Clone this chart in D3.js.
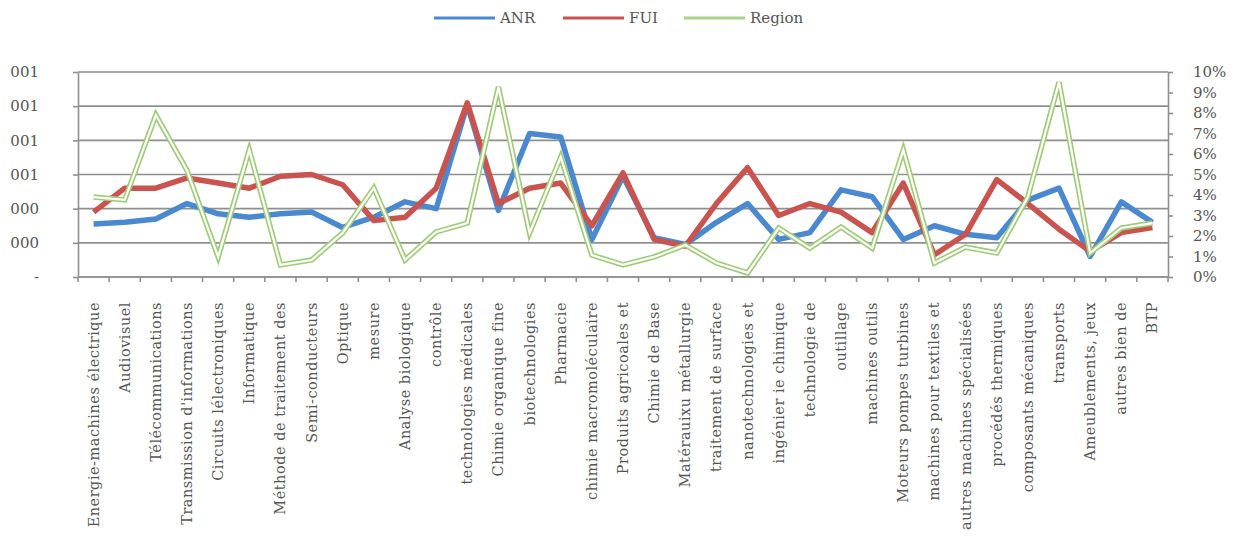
<!DOCTYPE html>
<html>
<head>
<meta charset="utf-8">
<script src="https://cdn.jsdelivr.net/npm/d3@7"></script>
<style>
  body { margin: 0; background: #fff; }
  text { font-family: "DejaVu Serif", serif; fill: #555; }
</style>
</head>
<body>
<div id="chart"></div>
<script>
// categories (x axis)
const categories = [
  "Energie-machines électrique", "Audiovisuel", "Télécommunications",
  "Transmission d'informations", "Circuits lélectroniques", "Informatique",
  "Méthode de traitement des", "Semi-conducteurs", "Optique", "mesure",
  "Analyse biologique", "contrôle", "technologies médicales",
  "Chimie organique fine", "biotechnologies", "Pharmacie",
  "chimie macromoléculaire", "Produits agricoales et", "Chimie de Base",
  "Matérauixu métallurgie", "traitement de surface", "nanotechnologies et",
  "ingénier ie chimique", "technologie de", "outillage", "machines outils",
  "Moteurs pompes turbines", "machines pour textiles et",
  "autres machines spécialisées", "procédés thermiques",
  "composants mécaniques", "transports", "Ameublements, jeux",
  "autres bien de", "BTP"
];

// left axis series
const anr = [
  0.00031, 0.00032, 0.00034, 0.00043, 0.00037, 0.00035, 0.00037, 0.00038,
  0.00029, 0.00035, 0.00044, 0.00040, 0.00101, 0.00039, 0.00084, 0.00082,
  0.00022, 0.00059, 0.00023, 0.00019, 0.00032, 0.00043, 0.00022, 0.00026,
  0.00051, 0.00047, 0.00022, 0.00030, 0.00025, 0.00023, 0.00045, 0.00052,
  0.00012, 0.00044, 0.00032
];
const fui = [
  0.00038, 0.00052, 0.00052, 0.00058, 0.00055, 0.00052, 0.00059, 0.00060,
  0.00054, 0.00033, 0.00035, 0.00052, 0.00102, 0.00043, 0.00052, 0.00055,
  0.00030, 0.00061, 0.00022, 0.00018, 0.00043, 0.00064, 0.00036, 0.00043,
  0.00038, 0.00026, 0.00055, 0.00013, 0.00025, 0.00057, 0.00043, 0.00028,
  0.00015, 0.00026, 0.00029
];
// right axis series (share)
const region = [
  0.039, 0.0376, 0.079, 0.052, 0.0098, 0.062, 0.0059, 0.0083,
  0.0215, 0.0434, 0.0083, 0.022, 0.0263, 0.0927, 0.0215, 0.0585,
  0.0107, 0.0059, 0.0098, 0.0156, 0.0068, 0.002, 0.0239, 0.0141,
  0.0244, 0.0141, 0.062, 0.0068, 0.0146, 0.0117, 0.039, 0.095,
  0.0117, 0.0239, 0.0263
];

const leftTicks = [0, 0.0002, 0.0004, 0.0006, 0.0008, 0.0010, 0.0012];
const rightTicks = [0, 0.01, 0.02, 0.03, 0.04, 0.05, 0.06, 0.07, 0.08, 0.09, 0.10];

const width = 1246, height = 538;
const plot = { left: 78, right: 1168, top: 72, bottom: 277 };

const svg = d3.select("#chart").append("svg")
  .attr("width", width).attr("height", height);

const x = d3.scaleBand().domain(categories).range([plot.left, plot.right]);
const yL = d3.scaleLinear().domain([0, 0.0012]).range([plot.bottom, plot.top]);
const yR = d3.scaleLinear().domain([0, 0.10]).range([plot.bottom, plot.top]);
const cx = d => x(d) + x.bandwidth() / 2;

const gridColor = "#8f8f8f";

// gridlines
svg.append("g").selectAll("line").data(leftTicks).enter().append("line")
  .attr("x1", plot.left).attr("x2", plot.right)
  .attr("y1", d => yL(d)).attr("y2", d => yL(d))
  .attr("stroke", gridColor).attr("stroke-width", 1.6);

// left axis
const leftAxis = svg.append("g")
  .attr("transform", `translate(${plot.left},0)`)
  .call(d3.axisLeft(yL).tickValues(leftTicks).tickSize(5).tickSizeOuter(0)
    .tickPadding(34)
    .tickFormat(d => d === 0 ? "-" : d3.format(".3f")(d).replace("0.", "")));

// right axis
const rightAxis = svg.append("g")
  .attr("transform", `translate(${plot.right},0)`)
  .call(d3.axisRight(yR).tickValues(rightTicks).tickSize(5).tickSizeOuter(0)
    .tickPadding(20).tickFormat(d3.format(".0%")));

// bottom axis with ticks at category boundaries
const bottom = svg.append("g");
bottom.append("line")
  .attr("x1", plot.left).attr("x2", plot.right)
  .attr("y1", plot.bottom).attr("y2", plot.bottom)
  .attr("stroke", gridColor).attr("stroke-width", 1.6);
bottom.selectAll("line.tk").data(categories.concat([null])).enter().append("line")
  .attr("class", "tk")
  .attr("x1", (d, i) => plot.left + i * x.bandwidth())
  .attr("x2", (d, i) => plot.left + i * x.bandwidth())
  .attr("y1", plot.bottom).attr("y2", plot.bottom + 5)
  .attr("stroke", gridColor).attr("stroke-width", 1.6);

[leftAxis, rightAxis].forEach(a => {
  a.select(".domain").attr("stroke", gridColor).attr("stroke-width", 1.6);
  a.selectAll(".tick line").attr("stroke", gridColor).attr("stroke-width", 1.6);
  a.selectAll(".tick text").style("font-size", "15px").attr("fill", "#555")
    .style("font-family", "DejaVu Serif, serif");
});
leftAxis.selectAll(".tick text").attr("text-anchor", "end").attr("dx", 0);

// x labels
bottom.selectAll("text").data(categories).enter().append("text")
  .attr("transform", d => `translate(${cx(d) + 5},302) rotate(-90)`)
  .attr("text-anchor", "end")
  .style("font-size", "14.5px")
  .style("letter-spacing", "0.5px")
  .attr("fill", "#444")
  .text(d => d);

// lines
const lineL = d3.line().x((d, i) => cx(categories[i])).y(d => yL(d));
const lineR = d3.line().x((d, i) => cx(categories[i])).y(d => yR(d));

svg.append("path").datum(anr).attr("d", lineL)
  .attr("fill", "none").attr("stroke", "#4a89cf").attr("stroke-width", 5.5)
  .attr("stroke-linejoin", "round");
svg.append("path").datum(fui).attr("d", lineL)
  .attr("fill", "none").attr("stroke", "#c9534f").attr("stroke-width", 5.5)
  .attr("stroke-linejoin", "round");
svg.append("path").datum(region).attr("d", lineR)
  .attr("fill", "none").attr("stroke", "#9fcb79").attr("stroke-width", 5.5);
svg.append("path").datum(region).attr("d", lineR)
  .attr("fill", "none").attr("stroke", "#fff").attr("stroke-width", 2.2);

// legend
const legendItems = [
  { name: "ANR", color: "#4a89cf", x: 434 },
  { name: "FUI", color: "#c9534f", x: 563 },
  { name: "Region", color: "#a9d18e", x: 684 }
];
const legend = svg.append("g").selectAll("g").data(legendItems).enter().append("g")
  .attr("transform", d => `translate(${d.x},18)`);
legend.append("line")
  .attr("x1", 0).attr("x2", 61).attr("y1", 0).attr("y2", 0)
  .attr("stroke", d => d.color).attr("stroke-width", 3);
legend.append("text")
  .attr("x", 66).attr("y", 5)
  .style("font-size", "15px").attr("fill", "#555")
  .text(d => d.name);
</script>
</body>
</html>
